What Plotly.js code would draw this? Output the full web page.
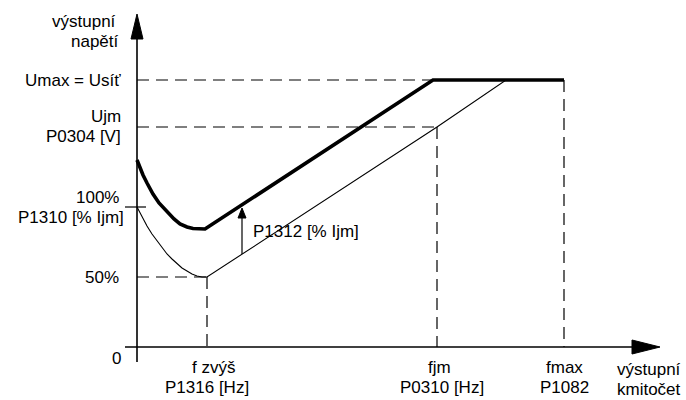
<!DOCTYPE html>
<html>
<head>
<meta charset="utf-8">
<script src="https://cdn.plot.ly/plotly-3.0.1.min.js"></script>
<style>html,body{margin:0;padding:0;background:#fff;}#chart{width:686px;height:400px;}</style>
</head>
<body>
<div id="chart"></div>
<script>
// ---- Data (schematic units) ----
const freqNames = ['f zvýš', 'fjm', 'fmax'];
const freqParams = ['P1316 [Hz]', 'P0310 [Hz]', 'P1082'];
const freqValues = [70, 300, 427];          // f boost end, nominal f, max f

const voltValues = [267, 220, 140, 70];      // Umax, Ujm, 100 % boost, 50 % boost
const voltNames = ['Umax = Usíť', 'Ujm', '100%', '50%'];
const voltParams = ['', 'P0304 [V]', 'P1310 [% Ijm]', ''];

// thin curve: continuous boost P1310
const thinX = [0, 5, 10, 15, 20, 25, 30, 35, 40, 45, 50, 55, 60, 65, 70, 300, 369, 427];
const thinY = [140, 130, 121, 113, 106, 99, 93, 88, 83, 79, 76, 73, 71, 70, 70, 220, 267, 267];

// thick curve: with acceleration boost P1312
const thickX = [0, 3, 6, 10, 16, 22, 30, 37, 43, 50, 56, 62, 68, 296, 427];
const thickY = [187, 179, 172, 164, 153, 144, 135, 128, 123, 120, 118.5, 118, 118, 267, 267];

// boost arrow P1312
const boostX = 105;
const boostFrom = 93;
const boostTo = 139;
const boostLabel = 'P1312 [% Ijm]';

const yAxisName = ['výstupní', 'napětí'];
const xAxisName = ['výstupní', 'kmitočet'];

// ---- Drawing ----
const FONT = 'Liberation Sans, Arial, sans-serif';
const FS = 17;
const yTop = 333, yBottom = -15, xLeft = -12, xEnd = 523;

const traces = [];
const dashStyle = {color: '#000', width: 1.2, dash: '12px,7px'};

// reference dashed lines
const dX = [], dY = [];
function seg(x0, y0, x1, y1) { dX.push(x0, x1, null); dY.push(y0, y1, null); }
seg(0, voltValues[0], thickX[thickX.length - 2], voltValues[0]);
seg(freqValues[2], voltValues[0], freqValues[2], 0);
seg(0, voltValues[1], freqValues[1], voltValues[1]);
seg(freqValues[1], voltValues[1], freqValues[1], 0);
seg(0, voltValues[3], freqValues[0], voltValues[3]);
seg(freqValues[0], voltValues[3], freqValues[0], 0);
traces.push({x: dX, y: dY, mode: 'lines', line: dashStyle, hoverinfo: 'skip', connectgaps: false});

// axes lines
traces.push({x: [0, 0], y: [yBottom, yTop - 10], mode: 'lines', line: {color: '#000', width: 1.6}, hoverinfo: 'skip'});
traces.push({x: [xLeft, xEnd - 10], y: [0, 0], mode: 'lines', line: {color: '#000', width: 1.6}, hoverinfo: 'skip'});
// tick at 100 %
traces.push({x: [xLeft, 9], y: [voltValues[2], voltValues[2]], mode: 'lines', line: {color: '#000', width: 1.2}, hoverinfo: 'skip'});

// axis arrowheads
traces.push({x: [-6, 6, 0, -6], y: [yTop - 25, yTop - 25, yTop, yTop - 25], mode: 'lines', fill: 'toself', fillcolor: '#000', line: {color: '#000', width: 1}, hoverinfo: 'skip'});
traces.push({x: [xEnd - 28, xEnd - 28, xEnd, xEnd - 28], y: [7, -7, 0, 7], mode: 'lines', fill: 'toself', fillcolor: '#000', line: {color: '#000', width: 1}, hoverinfo: 'skip'});

// curves
traces.push({x: thinX, y: thinY, mode: 'lines', line: {color: '#000', width: 1.1}, hoverinfo: 'skip'});
traces.push({x: thickX, y: thickY, mode: 'lines', line: {color: '#000', width: 3.6}, hoverinfo: 'skip'});

// boost arrow
traces.push({x: [boostX, boostX], y: [boostFrom, boostTo - 8], mode: 'lines', line: {color: '#000', width: 1.2}, hoverinfo: 'skip'});
traces.push({x: [boostX - 4, boostX + 4, boostX, boostX - 4], y: [boostTo - 10, boostTo - 10, boostTo, boostTo - 10], mode: 'lines', fill: 'toself', fillcolor: '#000', line: {color: '#000', width: 1}, hoverinfo: 'skip'});

// ---- Text ----
const ann = [];
function txt(text, x, y, xanchor) {
  ann.push({text: text, x: x, y: y, xref: 'x', yref: 'y', xanchor: xanchor || 'center', yanchor: 'middle',
    showarrow: false, borderpad: 0, font: {family: FONT, size: FS, color: '#000'}});
}
// y-axis name
txt(yAxisName[0], -20, 326, 'right');
txt(yAxisName[1], -17, 306, 'right');
// voltage labels
txt(voltNames[0], -15, voltValues[0], 'right');
txt(voltNames[1], -15, voltValues[1] + 11, 'right');
txt(voltParams[1], -15, voltValues[1] - 9, 'right');
txt(voltNames[2], -17, voltValues[2] + 10, 'right');
txt(voltParams[2], -12, voltValues[2] - 10, 'right');
txt(voltNames[3], -17, voltValues[3], 'right');
txt('0', -15, -11, 'right');
// frequency labels
const nameDx = [6, 2, 0];
const paramDx = [0, 5, 0];
for (let i = 0; i < freqValues.length; i++) {
  txt(freqNames[i], freqValues[i] + nameDx[i], -20, 'center');
  txt(freqParams[i], freqValues[i] + paramDx[i], -40, 'center');
}
// x-axis name
txt(xAxisName[0], 512, -22, 'center');
txt(xAxisName[1], 512, -42, 'center');
// boost label
txt(boostLabel, boostX + 10, 116, 'left');

const layout = {
  width: 686, height: 400,
  margin: {l: 0, r: 0, t: 0, b: 0, pad: 0},
  paper_bgcolor: '#fff', plot_bgcolor: '#fff',
  showlegend: false,
  xaxis: {range: [-137, 549], visible: false, fixedrange: true},
  yaxis: {range: [-53, 347], visible: false, fixedrange: true},
  annotations: ann,
  hovermode: false
};

Plotly.newPlot('chart', traces, layout, {staticPlot: true, displayModeBar: false});
</script>
</body>
</html>
